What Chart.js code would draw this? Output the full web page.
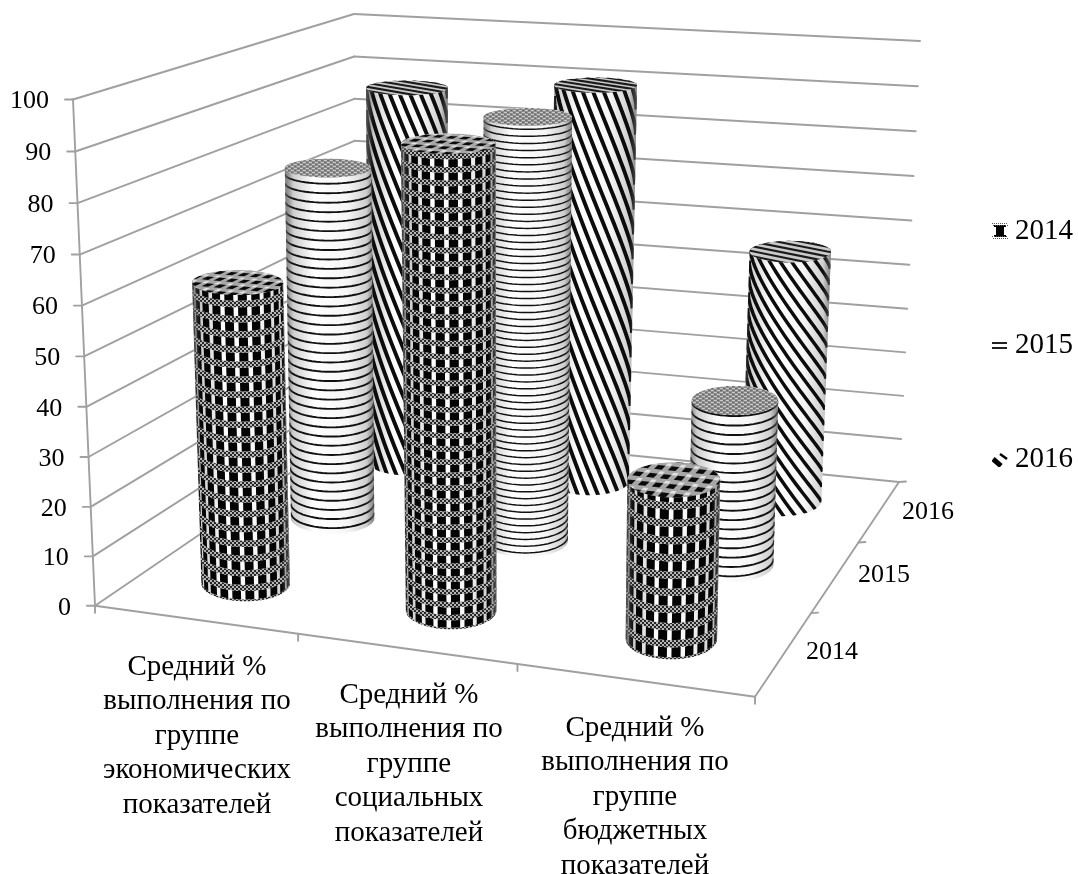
<!DOCTYPE html>
<html><head><meta charset="utf-8">
<style>html,body{margin:0;padding:0;background:#fff}canvas{display:block;filter:blur(0.45px)}</style>
<script src="https://cdn.jsdelivr.net/npm/chart.js@4"></script>
</head><body><canvas id="c" width="1078" height="874"></canvas>
<script>
const categories = [
  ['Средний %','выполнения по','группе','экономических','показателей'],
  ['Средний %','выполнения по','группе','социальных','показателей'],
  ['Средний %','выполнения по','группе','бюджетных','показателей']
];
const seriesNames = ['2014','2015','2016'];
const values2014 = [61.5, 92, 31];
const values2015 = [76.5, 90, 34.5];
const values2016 = [87, 90, 56];
const valueTicks = [0,10,20,30,40,50,60,70,80,90,100];

/* frame of the 3D box, pixels */
const FLOOR = [[95,605.7],[755,696.7],[899,482],[356,428]];
const ROOF  = [[73,99.5],[766,145],[920,41],[354,14]];
const CAT_LABEL_POS = [[197,667],[409,695],[635,728]];
const DEPTH_LABEL_POS = [[832,652],[884,575],[928,512]];
const FONT = '"Liberation Serif"';
const GRID = '#a0a0a0';

function homography(q){
  const [[x0,y0],[x1,y1],[x2,y2],[x3,y3]] = q;
  const dx1=x1-x2,dx2=x3-x2,sx=x0-x1+x2-x3,dy1=y1-y2,dy2=y3-y2,sy=y0-y1+y2-y3;
  const den=dx1*dy2-dx2*dy1, g=(sx*dy2-dx2*sy)/den, h=(dx1*sy-sx*dy1)/den;
  const a=x1-x0+g*x1,b=x3-x0+h*x3,d=y1-y0+g*y1,e=y3-y0+h*y3;
  return (u,v)=>{const w=g*u+h*v+1;return [(a*u+b*v+x0)/w,(d*u+e*v+y0)/w];};
}
const H0=homography(FLOOR), H1=homography(ROOF);
const KP=1.03;
let yScale=null;
function project(u,d,val){
  const t = yScale.getDecimalForPixel(yScale.getPixelForValue(val));
  const s = t/(t+KP*(1-t));
  const a=H0(u/3,d/3), b=H1(u/3,d/3);
  return [a[0]+(b[0]-a[0])*s, a[1]+(b[1]-a[1])*s];
}
function mkCanvas(w,h,fn){const c=document.createElement('canvas');c.width=w;c.height=h;fn(c.getContext('2d'));return c;}
const wovenTile = mkCanvas(4,4,x=>{x.fillStyle='#b5b5b5';x.fillRect(0,0,4,4);x.fillStyle='#262626';x.fillRect(0,0,2,2);x.fillRect(2,2,2,2);});
const dotTile = mkCanvas(6,4,x=>{x.fillStyle='#8e8e8e';x.fillRect(0,0,6,4);x.fillStyle='#c8c8c8';x.fillRect(0,0,3,1);x.fillRect(3,2,3,1);x.fillStyle='#6a6a6a';x.fillRect(3,0,2,1);x.fillRect(0,2,2,1);});

const RAD_U=[0.225,0.214,0.2], RAD_D=0.26, SHIFT_U=[.01,.016,.016];
const CHECK_P=[3.0,2.55,3.3];
const LINE_P=[2.0,1.45,1.95];
const HELIX=[[17,5.6],[17,5.6],[9.5,3.5]];

function polyPath(ctx,pts){ctx.beginPath();pts.forEach((p,i)=>i?ctx.lineTo(p[0],p[1]):ctx.moveTo(p[0],p[1]));ctx.closePath();}
function hull(pts){
  const s=pts.slice().sort((a,b)=>a[0]-b[0]||a[1]-b[1]);
  const cr=(o,a,b)=>(a[0]-o[0])*(b[1]-o[1])-(a[1]-o[1])*(b[0]-o[0]);
  const lo=[],up=[];
  for(const p of s){while(lo.length>1&&cr(lo[lo.length-2],lo[lo.length-1],p)<=0)lo.pop();lo.push(p);}
  for(const p of s.slice().reverse()){while(up.length>1&&cr(up[up.length-2],up[up.length-1],p)<=0)up.pop();up.push(p);}
  return lo.slice(0,-1).concat(up.slice(0,-1));
}
function drawCylinder(ctx,chart,cat,ser,val){
  const cu=cat+.5+SHIFT_U[cat], cd=ser+.5, ru=RAD_U[cat];
  const P=(phi,z)=>{
    const c=project(cu,cd,z);
    const A=(project(cu+ru,cd,z)[0]-project(cu-ru,cd,z)[0])/2;
    const B=Math.abs(project(cu,cd+RAD_D,z)[1]-project(cu,cd-RAD_D,z)[1])/2;
    return [c[0]+A*Math.cos(phi),c[1]-B*Math.sin(phi)];
  };
  const N=90,rim0=[],rim1=[];
  for(let i=0;i<N;i++){const f=i/N*2*Math.PI;rim0.push(P(f,0));rim1.push(P(f,val));}
  const fL=Math.PI,fR=2*Math.PI;
  const arc=(z)=>{const o=[];for(let i=0;i<=28;i++){const f=fL+(fR-fL)*i/28;o.push(P(f,z));}return o;};
  ctx.save();
  polyPath(ctx,hull(rim0.concat(rim1)));ctx.clip();
  const L=Math.min(P(fL,0)[0],P(fL,val)[0]),R=Math.max(P(fR,0)[0],P(fR,val)[0]);
  const g=ctx.createLinearGradient(L,0,R,0);
  g.addColorStop(0,'#8c8c8c');g.addColorStop(.1,'#cfcfcf');g.addColorStop(.33,'#ffffff');g.addColorStop(.7,'#f6f6f6');g.addColorStop(.92,'#cdcdcd');g.addColorStop(1,'#979797');
  ctx.fillStyle=g;ctx.fillRect(L-5,0,R-L+10,874);
  if(ser===1){
    ctx.strokeStyle='#111';ctx.lineWidth=cat===1?1.5:1.9;
    for(let z=LINE_P[cat]*.6;z<val;z+=LINE_P[cat]){ctx.beginPath();arc(z).forEach((p,i)=>i?ctx.lineTo(p[0],p[1]):ctx.moveTo(p[0],p[1]));ctx.stroke();}
  } else if(ser===2){
    const [k,per]=HELIX[cat];
    ctx.strokeStyle='#0c0c0c';ctx.lineWidth=cat===2?3.5:3.9;
    for(let z0=-2;z0<val+k*Math.PI+per;z0+=per){
      ctx.beginPath();
      for(let i=0;i<=36;i++){const f=fL+(fR-fL)*i/36,a=f-fL;
        const w=.5*a+.5*(1-Math.cos(a))/2*Math.PI;
        const p=P(f,z0-k*w);i?ctx.lineTo(p[0],p[1]):ctx.moveTo(p[0],p[1]);}
      ctx.stroke();
    }
  } else {
    const p=CHECK_P[cat],bh=p*.42,df=.3,wove=ctx.createPattern(wovenTile,'repeat');
    for(let z=-p*.3;z<val;z+=p){
      const a=arc(z),b=arc(z+bh).reverse();
      ctx.fillStyle=wove;polyPath(ctx,a.concat(b));ctx.fill();
      ctx.fillStyle='#050505';
      const cen=(fL+fR)/2;
      for(let j=-6;j<=6;j++){
        const f=cen+j*df+.1;
        if(f<fL-.1||f>fR+.1)continue;
        const q=[P(f-.1,z+bh),P(f+.1,z+bh),P(f+.1,z+p),P(f-.1,z+p)];
        polyPath(ctx,q);ctx.fill();
      }
    }
  }
  const edge=ctx.createLinearGradient(L,0,R,0);
  edge.addColorStop(0,'rgba(120,120,120,.65)');edge.addColorStop(.09,'rgba(120,120,120,0)');edge.addColorStop(.91,'rgba(120,120,120,0)');edge.addColorStop(1,'rgba(120,120,120,.6)');
  ctx.fillStyle=edge;ctx.fillRect(L-5,0,R-L+10,874);
  /* top cap */
  polyPath(ctx,rim1);ctx.clip();
  if(ser===1){ctx.fillStyle=ctx.createPattern(dotTile,'repeat');ctx.fillRect(L-5,0,R-L+10,874);}
  else if(ser===2){
    ctx.fillStyle='#cacaca';ctx.fillRect(L-5,0,R-L+10,874);
    ctx.strokeStyle='#1a1a1a';ctx.lineWidth=2.1;
    for(let o=-.9;o<=.9;o+=.095){ctx.beginPath();
      const a=project(cu-.4,cd+o+.2,val),b=project(cu+.4,cd+o-.2,val);ctx.moveTo(a[0],a[1]);ctx.lineTo(b[0],b[1]);ctx.stroke();}
  } else {
    ctx.fillStyle='#a6a6a6';ctx.fillRect(L-5,0,R-L+10,874);
    const su=.06,sd=.12;
    for(let i=-5;i<=5;i++)for(let j=-3;j<=3;j++){
      const u=cu+i*su,d=cd+j*sd;
      ctx.fillStyle='#0a0a0a';
      polyPath(ctx,[project(u,d,val),project(u+su*.55,d,val),project(u+su*.55,d+sd*.5,val),project(u,d+sd*.5,val)]);ctx.fill();
      ctx.fillStyle='#e2e2e2';
      polyPath(ctx,[project(u+su*.55,d+sd*.5,val),project(u+su*.9,d+sd*.5,val),project(u+su*.9,d+sd*.8,val),project(u+su*.55,d+sd*.8,val)]);ctx.fill();
    }
  }
  ctx.restore();
}
function line(ctx,a,b){ctx.beginPath();ctx.moveTo(a[0],a[1]);ctx.lineTo(b[0],b[1]);ctx.stroke();}

const LEG_LEFT=914.5, LEG_TOP=-92;
const framePlugin={
  id:'frame3d',
  beforeDraw(chart){
    const lg=chart.legend,w=lg.width,h=lg.height;
    lg.left=LEG_LEFT;lg.right=LEG_LEFT+w;lg.top=LEG_TOP;lg.bottom=LEG_TOP+h;
  },
  beforeDatasetsDraw(chart){
    const ctx=chart.ctx;yScale=chart.scales.y;
    ctx.save();ctx.strokeStyle=GRID;ctx.lineWidth=1.9;ctx.lineCap='round';
    for(const v of valueTicks){
      line(ctx,project(0,0,v),project(0,3,v));
      line(ctx,project(0,3,v),project(3,3,v));
    }
    line(ctx,project(0,0,0),project(0,0,100));
    line(ctx,project(0,0,0),project(3,0,0));
    line(ctx,project(3,0,0),project(3,3,0));
    ctx.fillStyle='#000';ctx.font='26px '+FONT;ctx.textAlign='right';ctx.textBaseline='middle';
    for(const v of valueTicks){
      const p=project(0,0,v);
      line(ctx,[p[0]-8,p[1]],p);
      ctx.fillText(String(v),p[0]-24,p[1]+2);
    }
    for(let i=0;i<=3;i++){const p=project(i,0,0);line(ctx,p,[p[0],p[1]+7]);}
    for(let i=1;i<=3;i++){const p=project(3,i,0);line(ctx,p,[p[0]+7,p[1]-.5]);}
    ctx.textAlign='center';ctx.textBaseline='middle';
    seriesNames.forEach((s,i)=>ctx.fillText(s,DEPTH_LABEL_POS[i][0],DEPTH_LABEL_POS[i][1]));
    ctx.font='29px '+FONT;
    categories.forEach((lines,i)=>lines.forEach((t,j)=>ctx.fillText(t,CAT_LABEL_POS[i][0],CAT_LABEL_POS[i][1]+j*34.6)));
    ctx.restore();
  },
  afterDatasetsDraw(chart){
    const ctx=chart.ctx;yScale=chart.scales.y;
    for(let s=2;s>=0;s--){
      const meta=chart.getDatasetMeta(s);
      for(let c=0;c<3;c++){
        drawCylinder(ctx,chart,c,s,meta._parsed[c].y);
      }
    }
  }
};
const iconA=mkCanvas(16,16,x=>{x.fillStyle='#000';x.fillRect(2,2,12,12);x.fillStyle='#555';
  for(let i=0;i<8;i++){x.fillRect(i*2,0,1,1);x.fillRect(i*2+1,2,1,1);x.fillRect(i*2,13,1,1);x.fillRect(i*2+1,15,1,1);}
  x.fillStyle='#fff';x.fillRect(2,4,2,8);x.fillRect(12,4,2,8);});
const iconB=mkCanvas(16,16,x=>{x.fillStyle='#222';x.fillRect(0,5,15,2);x.fillRect(0,10,15,2);});
const iconC=mkCanvas(16,16,x=>{x.strokeStyle='#000';x.lineWidth=5;x.beginPath();x.moveTo(1,8);x.lineTo(9,15);x.stroke();x.lineWidth=2.5;x.beginPath();x.moveTo(8,3);x.lineTo(15,8);x.stroke();});
const icons=[iconA,iconB,iconC];

new Chart(document.getElementById('c'),{
  type:'bar',
  data:{labels:categories,datasets:[
    {label:seriesNames[0],data:values2014,backgroundColor:'rgba(0,0,0,0)'},
    {label:seriesNames[1],data:values2015,backgroundColor:'rgba(0,0,0,0)'},
    {label:seriesNames[2],data:values2016,backgroundColor:'rgba(0,0,0,0)'}
  ]},
  options:{
    responsive:false,animation:false,events:[],
    layout:{padding:0},
    scales:{x:{display:false},y:{display:false,min:0,max:100}},
    plugins:{
      tooltip:{enabled:false},title:{display:false},
      legend:{display:true,position:'right',align:'center',
        labels:{font:{family:'Liberation Serif',size:29},color:'#000',padding:85,usePointStyle:true,pointStyleWidth:1,
          generateLabels:(ch)=>ch.data.datasets.map((d,i)=>({text:d.label,pointStyle:icons[i],datasetIndex:i,hidden:false,fontColor:'#000',lineWidth:0,strokeStyle:'rgba(0,0,0,0)',fillStyle:'rgba(0,0,0,0)'}))}}
    }
  },
  plugins:[framePlugin]
});
</script></body></html>
